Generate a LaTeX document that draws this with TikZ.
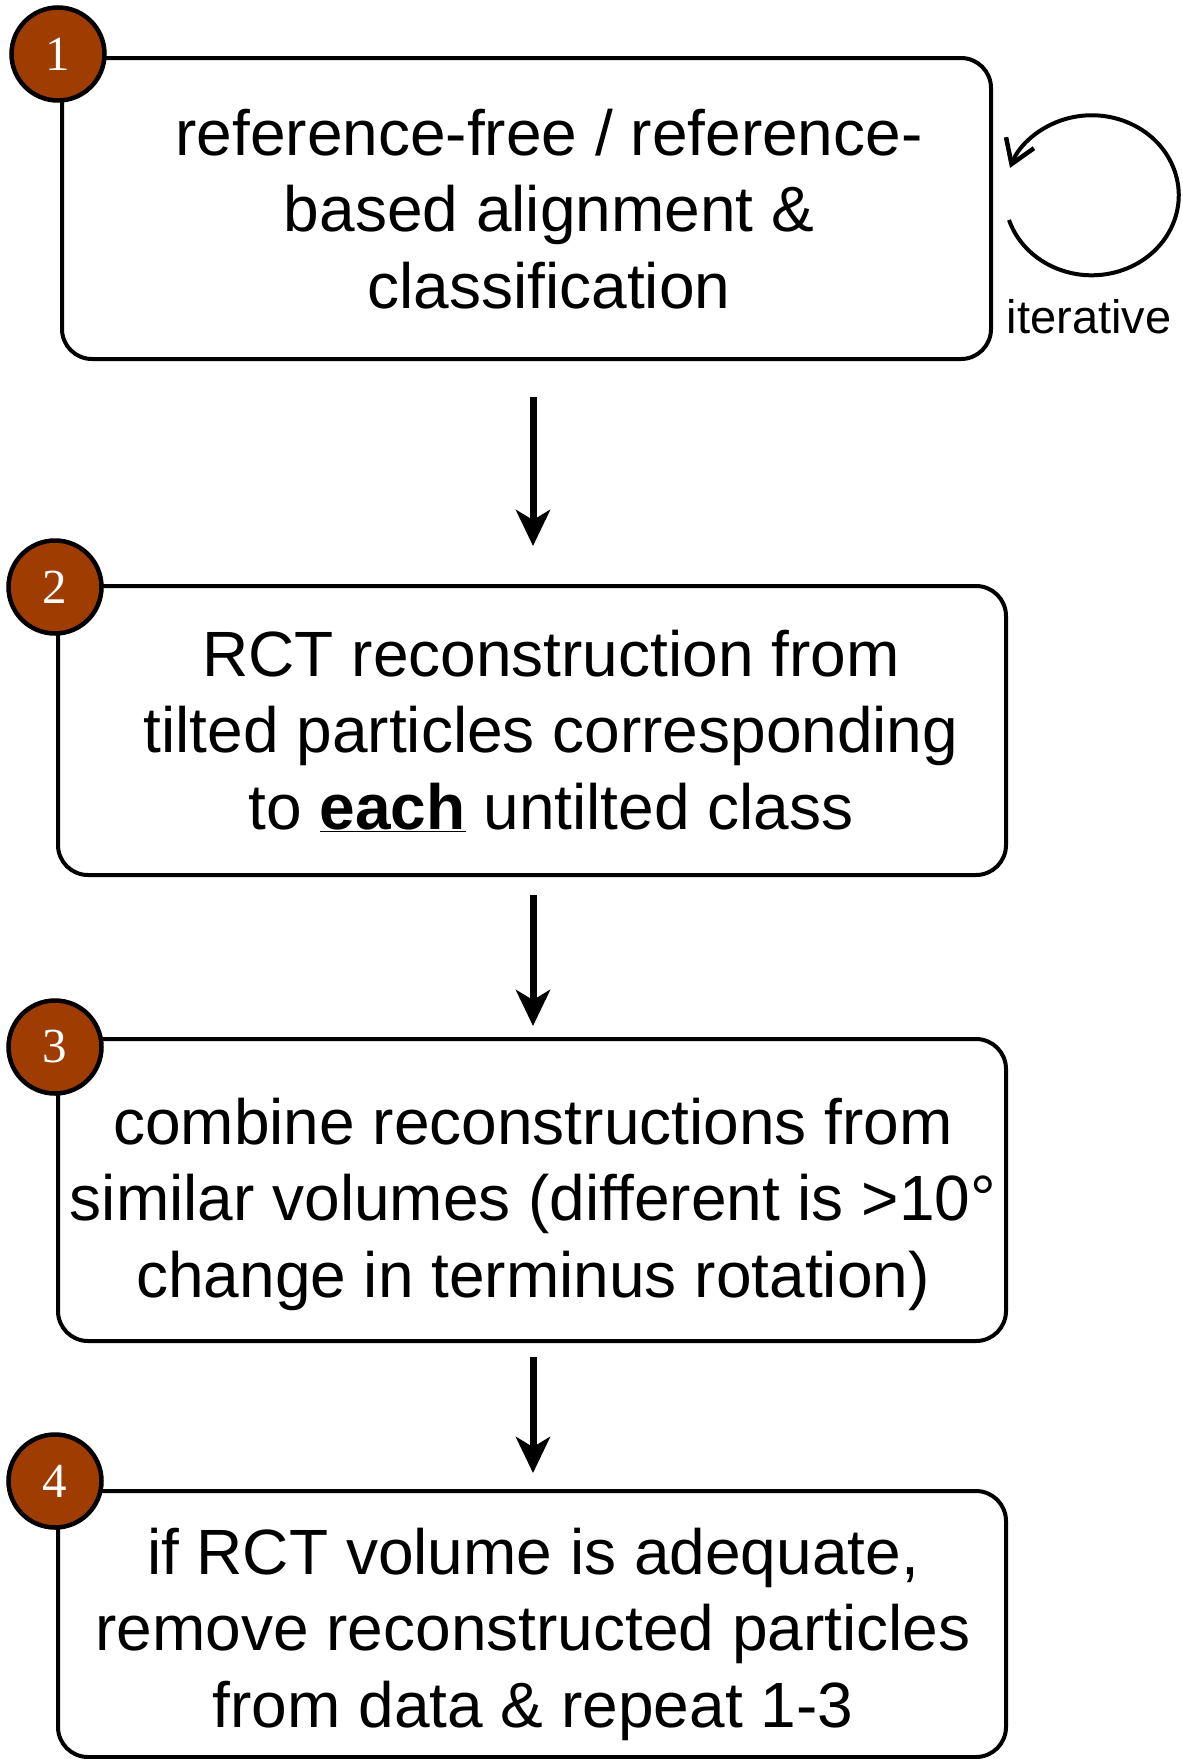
\documentclass[tikz,border=0pt]{standalone}
\usepackage{fontspec}
\setmainfont{Liberation Sans}
\newfontfamily\badgefont{Liberation Serif}
\usetikzlibrary{arrows.meta}
\definecolor{badge}{RGB}{158,60,2}
\begin{document}
\begin{tikzpicture}[x=1pt,y=-1pt,
 stepbox/.style={draw, line width=4pt, rounded corners=30pt, inner sep=0pt, rectangle},
 txt/.style={align=center, font=\fontsize{64}{76.5}\selectfont, inner sep=0pt},
 badgenode/.style={circle, draw, line width=4.5pt, fill=badge, minimum size=93pt, inner sep=0pt, text=white, font=\badgefont\fontsize{49}{49}\selectfont},
 flow/.style={line width=7pt, -{Stealth[length=36pt,width=34pt,inset=10pt]}},
 looparrow/.style={line width=4pt, -{Straight Barb[length=23pt,width=30pt,line width=4.5pt]}}
]
\useasboundingbox (0,0) rectangle (1183,1759);

\node[stepbox, minimum width=929pt, minimum height=301pt] (b1) at (526.5,208.5) {};
\node[stepbox, minimum width=948pt, minimum height=289pt] (b2) at (532,730.5) {};
\node[stepbox, minimum width=948pt, minimum height=302pt] (b3) at (532,1190) {};
\node[stepbox, minimum width=948pt, minimum height=266pt] (b4) at (532,1624) {};

\node[txt] (t1) at (549,209) {reference-free / reference-\\based alignment \&\\classification};
\node[txt] (t2) at (551,731) {RCT reconstruction from\\tilted particles corresponding\\to \underline{\textbf{each}} untilted class};
\node[txt] (t3) at (533,1204) {combine reconstructions from\\similar volumes (different is >10°\\change in terminus rotation)};
\node[txt] (t4) at (533,1634) {if RCT volume is adequate,\\remove reconstructed particles\\from data \& repeat 1-3};

\node[badgenode] (n1) at ([xshift=-2pt,yshift=2pt]b1.north west) {1};
\node[badgenode] (n2) at ([xshift=-1pt,yshift=-3pt]b2.north west) {2};
\node[badgenode] (n3) at ([xshift=-1pt,yshift=-10pt]b3.north west) {3};
\node[badgenode] (n4) at ([xshift=-1pt,yshift=8pt]b4.north west) {4};

\draw[flow, shorten <=36pt, shorten >=38pt] ([xshift=6.5pt]b1.south) -- ([xshift=1pt]b2.north);
\draw[flow, shorten <=18pt, shorten >=11pt] ([xshift=1pt]b2.south) -- ([xshift=1pt]b3.north);
\draw[flow, shorten <=14pt, shorten >=16pt] ([xshift=1pt]b3.south) -- ([xshift=1pt]b4.north);

\draw[looparrow] ([xshift=16pt,yshift=-11.5pt]b1.east) arc[start angle=-198, end angle=-520, x radius=87, y radius=80];
\node[font=\fontsize{47}{56}\selectfont, inner sep=0pt] (it) at (1089,317) {iterative};
\end{tikzpicture}
\end{document}
